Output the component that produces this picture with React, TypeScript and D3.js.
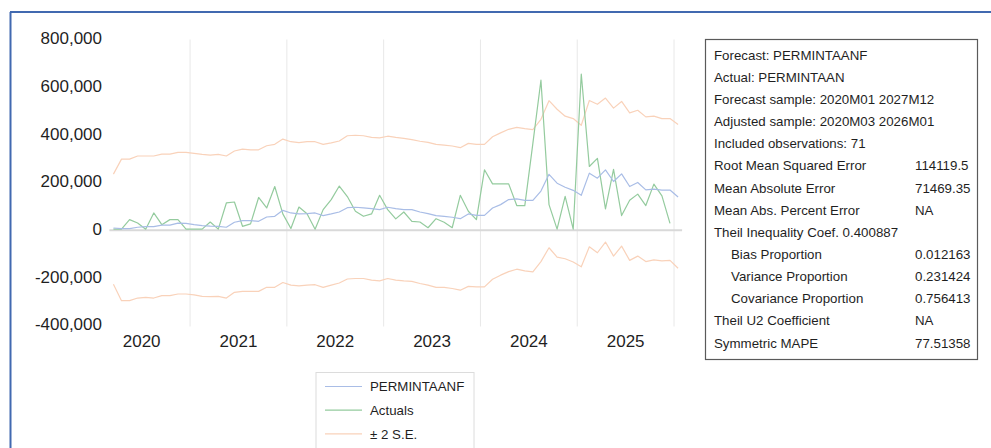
import React from "react";
import * as d3 from "d3";

// Month index k = 0 corresponds to 2020M03 (adjusted sample 2020M03 .. 2026M01)
const START_YEAR = 2020;
const START_MONTH = 3;
const N_MONTHS = 71;

const forecastK = [
  5, 2, 2, 8, 11, 11, 17, 17, 25, 24,
  19, 15, 13, 12, 8, 29, 36, 36, 33, 51,
  54, 79, 68, 64, 65, 68, 57, 64, 72, 90,
  92, 89, 86, 82, 92, 86, 82, 82, 72, 65,
  57, 54, 50, 44, 64, 58, 58, 89, 103, 124,
  127, 121, 121, 160, 230, 193, 176, 163, 142, 235,
  214, 249, 200, 232, 179, 196, 165, 168, 164, 164,
  135,
];

const actualK = [
  0, 0, 40, 26, 0, 68, 19, 40, 40, 0,
  0, 0, 30, 0, 110, 114, 12, 22, 133, 89,
  179, 64, 3, 93, 65, 0, 82, 124, 181, 137,
  75, 54, 64, 142, 82, 43, 72, 33, 30, 6,
  44, 29, 6, 142, 75, 40, 249, 190, 190, 190,
  99, 99, 360, 625, 103, 0, 138, 0, 651, 263,
  297, 85, 251, 57, 121, 147, 99, 189, 140, 24,
];

const upperK = [
  231, 294, 294, 307, 307, 307, 315, 315, 322, 322,
  318, 314, 311, 314, 307, 328, 336, 333, 333, 350,
  356, 378, 367, 363, 367, 367, 356, 362, 370, 392,
  394, 392, 385, 383, 390, 385, 381, 376, 369, 364,
  356, 353, 349, 342, 360, 356, 356, 388, 404, 419,
  427, 422, 418, 461, 539, 503, 474, 464, 436, 540,
  524, 550, 508, 536, 488, 499, 471, 474, 464, 464,
  439,
];

const lowerK = [
  -231, -300, -300, -289, -286, -289, -279, -279, -272, -272,
  -276, -282, -283, -282, -289, -265, -261, -261, -261, -244,
  -244, -224, -235, -238, -235, -233, -244, -235, -226, -209,
  -207, -207, -214, -217, -207, -214, -217, -219, -228, -235,
  -244, -244, -249, -256, -240, -242, -242, -210, -193, -178,
  -168, -175, -179, -136, -78, -117, -124, -138, -158, -74,
  -99, -54, -113, -71, -131, -113, -136, -129, -133, -131,
  -164,
];

const yTicks = [800000, 600000, 400000, 200000, 0, -200000, -400000];
const yearLabels = [2020, 2021, 2022, 2023, 2024, 2025];
const gridYears = [2021, 2022, 2023, 2024, 2025, 2026];

const statLabels = [
  "Forecast: PERMINTAANF",
  "Actual: PERMINTAAN",
  "Forecast sample: 2020M01 2027M12",
  "Adjusted sample: 2020M03 2026M01",
  "Included observations: 71",
  "Root Mean Squared Error",
  "Mean Absolute Error",
  "Mean Abs. Percent Error",
  "Theil Inequality Coef. 0.400887",
  "Bias Proportion",
  "Variance Proportion",
  "Covariance Proportion",
  "Theil U2 Coefficient",
  "Symmetric MAPE",
];
const statValues = ["", "", "", "", "", "114119.5", "71469.35", "NA", "", "0.012163", "0.231424", "0.756413", "NA", "77.51358"];
const statIndent = [false, false, false, false, false, false, false, false, false, true, true, true, false, false];

const legendLabels = ["PERMINTAANF", "Actuals", "± 2 S.E."];

const C_FORECAST = "#a9bde6";
const C_ACTUAL = "#94cb9e";
const C_SE = "#f9d2ba";
const TEXT = "#1f1f1f";
const FONT = "'Liberation Sans', Arial, sans-serif";

export default function App() {
  const W = 991;
  const H = 448;
  const x = d3.scaleLinear().domain([-0.5, N_MONTHS - 0.5]).range([109.4, 682.1]);
  const y = d3.scaleLinear().domain([-400000, 800000]).range([324.5, 38.5]);
  const monthIdx = (year: number, month: number) => (year - START_YEAR) * 12 + (month - START_MONTH);

  const line = d3
    .line<number>()
    .x((_, i) => x(i))
    .y((v) => y(v * 1000));

  const series = [
    { data: upperK, color: C_SE },
    { data: lowerK, color: C_SE },
    { data: actualK, color: C_ACTUAL },
    { data: forecastK, color: C_FORECAST },
  ];

  const legendColors = [C_FORECAST, C_ACTUAL, C_SE];
  const fmt = (v: number) => d3.format(",")(v).replace("\u2212", "-");

  return (
    <svg
      width={W}
      height={H}
      style={{ position: "absolute", left: 0, top: 0, background: "#fff" }}
      fontFamily={FONT}
    >
      <rect x={0} y={0} width={W} height={H} fill="#fff" />
      {/* outer blue frame */}
      <line x1={10} y1={12} x2={W} y2={12} stroke="#4169b0" strokeWidth={2} />
      <line x1={10.5} y1={12} x2={10.5} y2={H} stroke="#4169b0" strokeWidth={2} />

      {/* vertical gridlines */}
      {gridYears.map((yr) => {
        const gx = x(monthIdx(yr, 1) - 0.5);
        return (
          <line key={yr} x1={gx} x2={gx} y1={y(800000) + 1} y2={y(-400000) + 2} stroke="#e8e8e8" strokeWidth={1} />
        );
      })}

      {/* zero line */}
      <line x1={x(-0.5)} x2={x(N_MONTHS - 0.5)} y1={y(0) + 1} y2={y(0) + 1} stroke="#d9d9d9" strokeWidth={2} />

      {/* y labels */}
      {yTicks.map((t) => (
        <text key={t} x={102} y={y(t)} dy="0.35em" textAnchor="end" fontSize={17} fill={TEXT}>
          {fmt(t)}
        </text>
      ))}

      {/* year labels */}
      {yearLabels.map((yr) => (
        <text
          key={yr}
          x={x(monthIdx(yr, 1) + 5.5)}
          y={341}
          dy="0.35em"
          textAnchor="middle"
          fontSize={17}
          fill={TEXT}
        >
          {yr}
        </text>
      ))}

      {/* series */}
      {series.map((s, i) => (
        <path key={i} d={line(s.data) || ""} fill="none" stroke={s.color} strokeWidth={1.2} strokeLinejoin="round" />
      ))}

      {/* stats box */}
      <rect x={705.5} y={39.5} width={272} height={320} fill="#fff" stroke="#5a5a5a" strokeWidth={1.2} />
      {statLabels.map((lab, i) => (
        <g key={i}>
          <text x={statIndent[i] ? 731 : 714} y={55 + i * 22.15} dy="0.35em" fontSize={13.3} fill={TEXT}>
            {lab}
          </text>
          {statValues[i] && (
            <text x={915} y={55 + i * 22.15} dy="0.35em" fontSize={13.3} fill={TEXT}>
              {statValues[i]}
            </text>
          )}
        </g>
      ))}

      {/* legend */}
      <rect x={316} y={372.5} width={158} height={90} fill="#fff" stroke="#dcdcdc" strokeWidth={1} />
      {legendLabels.map((lab, i) => (
        <g key={lab}>
          <line x1={325} x2={362} y1={386.5 + i * 23.7} y2={386.5 + i * 23.7} stroke={legendColors[i]} strokeWidth={1.2} />
          <text x={370} y={386.5 + i * 23.7} dy="0.35em" fontSize={13.3} fill={TEXT}>
            {lab}
          </text>
        </g>
      ))}
    </svg>
  );
}
